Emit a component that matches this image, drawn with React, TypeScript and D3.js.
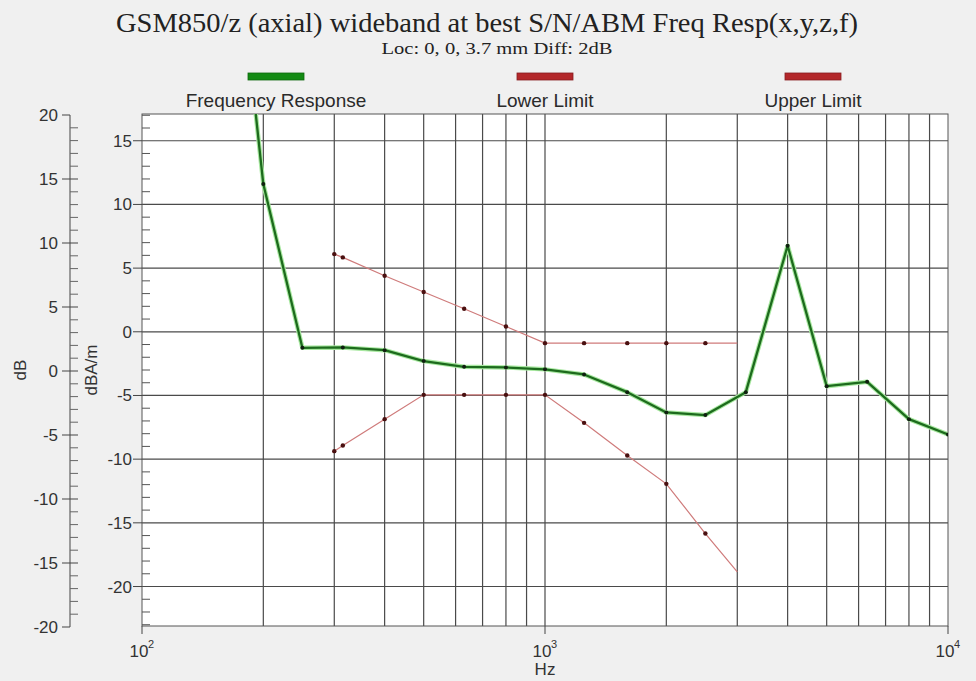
import React from 'react';
import * as d3 from 'd3';

// frequency response (dBA/m) at 1/3 octave points
const respFreqs = [160, 200, 250, 315, 400, 500, 630, 800, 1000, 1250, 1600, 2000, 2500, 3150, 4000, 5000, 6300, 8000, 10000];
const respValues = [40, 11.6, -1.26, -1.23, -1.44, -2.3, -2.75, -2.8, -2.95, -3.35, -4.74, -6.33, -6.54, -4.74, 6.76, -4.27, -3.93, -6.86, -8.06];

// limit masks
const limitFreqs = [300, 315, 400, 500, 630, 800, 1000, 1250, 1600, 2000, 2500, 3000];
const lowerLimit = [-9.37, -8.93, -6.86, -4.95, -4.95, -4.95, -4.95, -7.15, -9.71, -11.94, -15.84, -18.85];
const upperLimit = [6.1, 5.84, 4.4, 3.12, 1.81, 0.42, -0.89, -0.89, -0.89, -0.89, -0.89, -0.89];

const dbTicks = [20, 15, 10, 5, 0, -5, -10, -15, -20];
const dbaTicks = [15, 10, 5, 0, -5, -10, -15, -20];
const decadeLabels = [{ f: 100, exp: '2' }, { f: 1000, exp: '3' }, { f: 10000, exp: '4' }];

const legendItems = [
  { label: 'Frequency Response', color: '#138a13', cx: 276 },
  { label: 'Lower Limit', color: '#b3272a', cx: 545 },
  { label: 'Upper Limit', color: '#b3272a', cx: 813 },
];

const W = 976;
const H = 681;
const plot = { left: 142, right: 948, top: 114, bottom: 626 };
const leftAxisX = 70;
const sans = '"Liberation Sans", Arial, sans-serif';
const serif = '"Liberation Serif", "Times New Roman", serif';

export default function App() {
  const x = d3.scaleLog().domain([100, 10000]).range([plot.left, plot.right]);
  const y = d3.scaleLinear().domain([-23.1, 17.1]).range([plot.bottom, plot.top]);
  const yL = d3.scaleLinear().domain([-20, 20]).range([627, 115]);

  const gridFreqs: number[] = [];
  [100, 1000].forEach(d => {
    for (let k = 1; k < 10; k++) if (d * k > 100) gridFreqs.push(d * k);
  });

  const line = d3.line<[number, number]>().x(d => x(d[0])).y(d => y(d[1]));
  const resp = respFreqs.map((f, i) => [f, respValues[i]] as [number, number]);
  const lower = limitFreqs.map((f, i) => [f, lowerLimit[i]] as [number, number]);
  const upper = limitFreqs.map((f, i) => [f, upperLimit[i]] as [number, number]);

  const minorL = d3.range(-20, 21, 1).filter(v => v % 5 !== 0);
  const minorR = d3.range(-23, 18, 1).filter(v => v % 5 !== 0);

  return (
    <svg width={W} height={H} style={{ position: 'absolute', left: 0, top: 0 }}>
      <rect width={W} height={H} fill="#f0f0f0" />
      <defs>
        <clipPath id="plotclip">
          <rect x={plot.left} y={plot.top} width={plot.right - plot.left} height={plot.bottom - plot.top} />
        </clipPath>
      </defs>

      {/* titles */}
      <text x={487} y={32} textAnchor="middle" fontFamily={serif} fontSize={27} fill="#222" textLength={742} lengthAdjust="spacingAndGlyphs">
        GSM850/z (axial) wideband at best S/N/ABM Freq Resp(x,y,z,f)
      </text>
      <text x={497} y={54} textAnchor="middle" fontFamily={serif} fontSize={16} fill="#222" textLength={231} lengthAdjust="spacingAndGlyphs">
        Loc: 0, 0, 3.7 mm Diff: 2dB
      </text>

      {/* legend */}
      {legendItems.map(d => (
        <g key={d.label}>
          <rect x={d.cx - 28} y={73} width={56} height={7} fill={d.color} stroke={d3.color(d.color)!.darker(0.8).toString()} strokeWidth={0.8} />
          <text x={d.cx} y={107} textAnchor="middle" fontFamily={sans} fontSize={19} fill="#2a2a2a">{d.label}</text>
        </g>
      ))}

      {/* plot area */}
      <rect x={plot.left} y={plot.top} width={plot.right - plot.left} height={plot.bottom - plot.top} fill="#fff" />
      {gridFreqs.map(f => (
        <line key={'v' + f} x1={x(f)} x2={x(f)} y1={plot.top} y2={plot.bottom} stroke="#4a4a4a" strokeWidth={1.2} />
      ))}
      {dbaTicks.map(v => (
        <line key={'h' + v} x1={plot.left} x2={plot.right} y1={y(v)} y2={y(v)} stroke="#4a4a4a" strokeWidth={1.2} />
      ))}
      <rect x={plot.left} y={plot.top} width={plot.right - plot.left} height={plot.bottom - plot.top} fill="none" stroke="#555" strokeWidth={1} />

      <g clipPath="url(#plotclip)">
        {[lower, upper].map((pts, j) => (
          <g key={'lim' + j}>
            <path d={line(pts)!} fill="none" stroke="#cf7b7b" strokeWidth={1.2} />
            {pts.slice(0, -1).map((p, i) => (
              <circle key={i} cx={x(p[0])} cy={y(p[1])} r={2.2} fill="#4a1010" />
            ))}
          </g>
        ))}
        <path d={line(resp)!} fill="none" stroke="#a8e8a0" strokeWidth={4.5} strokeLinejoin="round" />
        <path d={line(resp)!} fill="none" stroke="#1d6b1d" strokeWidth={2.3} strokeLinejoin="round" />
        {resp.map((p, i) => (
          <circle key={i} cx={x(p[0])} cy={y(p[1])} r={2} fill="#102010" />
        ))}
      </g>

      {/* left dB axis */}
      <line x1={leftAxisX} x2={leftAxisX} y1={yL(20)} y2={yL(-20)} stroke="#444" />
      {minorL.map(v => (
        <line key={'ml' + v} x1={leftAxisX} x2={leftAxisX + 8} y1={yL(v)} y2={yL(v)} stroke="#666" />
      ))}
      {dbTicks.map(v => (
        <g key={'tl' + v}>
          <line x1={leftAxisX - 8} x2={v === 20 || v === -20 ? leftAxisX : leftAxisX + 8} y1={yL(v)} y2={yL(v)} stroke="#444" />
          <text x={leftAxisX - 12} y={yL(v) + 6} textAnchor="end" fontFamily={sans} fontSize={17} fill="#333">{v}</text>
        </g>
      ))}
      <text transform={`translate(26,370) rotate(-90)`} textAnchor="middle" fontFamily={sans} fontSize={17} fill="#333">dB</text>

      {/* right dBA/m axis */}
      {minorR.map(v => (
        <line key={'mr' + v} x1={plot.left} x2={plot.left + 8} y1={y(v)} y2={y(v)} stroke="#555" />
      ))}
      {dbaTicks.map(v => (
        <g key={'tr' + v}>
          <line x1={plot.left - 9} x2={plot.left} y1={y(v)} y2={y(v)} stroke="#444" />
          <text x={plot.left - 10} y={y(v) + 6} textAnchor="end" fontFamily={sans} fontSize={17} fill="#333">{v}</text>
        </g>
      ))}
      <text transform={`translate(97,370) rotate(-90)`} textAnchor="middle" fontFamily={sans} fontSize={17} fill="#333">dBA/m</text>

      {/* bottom Hz axis */}
      {decadeLabels.map(d => (
        <g key={'x' + d.f}>
          <line x1={x(d.f)} x2={x(d.f)} y1={plot.bottom} y2={plot.bottom + 8} stroke="#444" />
          <text x={x(d.f) - 3} y={plot.bottom + 31} textAnchor="middle" fontFamily={sans} fontSize={17} fill="#333">10</text>
          <text x={x(d.f) + 9} y={plot.bottom + 22} textAnchor="middle" fontFamily={sans} fontSize={11} fill="#333">{d.exp}</text>
        </g>
      ))}
      <text x={545} y={675} textAnchor="middle" fontFamily={sans} fontSize={17} fill="#333">Hz</text>
    </svg>
  );
}
